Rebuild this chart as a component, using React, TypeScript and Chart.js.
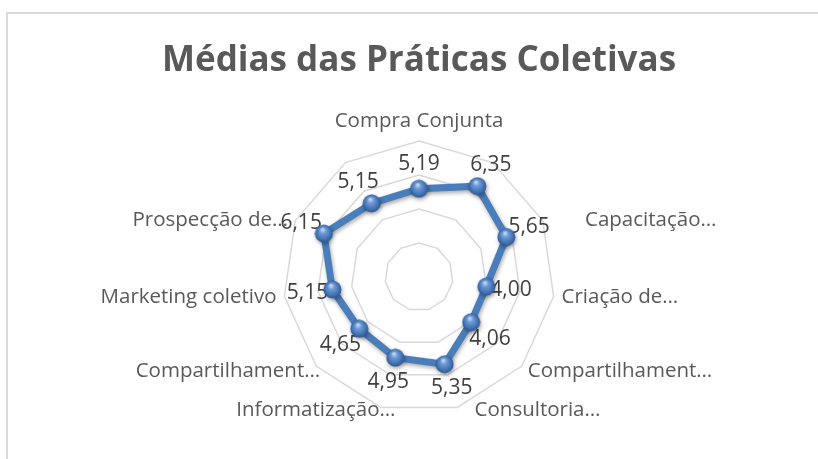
import React, { useEffect, useRef } from 'react';
import { Chart, registerables } from 'chart.js';

Chart.register(...registerables);

// ---- data ----
const categories = [
  'Compra Conjunta',
  '',
  'Capacitação…',
  'Criação de…',
  'Compartilhament…',
  'Consultoria…',
  'Informatização…',
  'Compartilhament…',
  'Marketing coletivo',
  'Prospecção de…',
  '',
];
const values = [5.19, 6.35, 5.65, 4.0, 4.06, 5.35, 4.95, 4.65, 5.15, 6.15, 5.15];
const scaleMin = 0;
const scaleMax = 8;
const scaleStep = 2;
const titleText = 'Médias das Práticas Coletivas';

// ---- label styling (pixel nudges for category labels) ----
const labelNudgeX = [0, 0, 35, 0, 0, 15, 17, 10, 0, 0, 0];
const labelNudgeY = [-2, 0, 3, 0, 0, -5, -5, 0, 0, 3, 0];

const FONT = '"Open Sans", "Noto Sans", sans-serif';

function makeSphere(d: number): HTMLCanvasElement {
  const c = document.createElement('canvas');
  c.width = d;
  c.height = d;
  const g = c.getContext('2d')!;
  const r = d / 2;
  const grad = g.createRadialGradient(r * 0.85, r * 0.55, r * 0.05, r, r, r);
  grad.addColorStop(0, '#c6dcf6');
  grad.addColorStop(0.3, '#6d9ad6');
  grad.addColorStop(0.75, '#3f70b0');
  grad.addColorStop(1, '#2a5186');
  g.fillStyle = grad;
  g.beginPath();
  g.arc(r, r, r - 0.5, 0, Math.PI * 2);
  g.fill();
  return c;
}

const fmt = (v: number) => v.toFixed(2).replace('.', ',');

const labelsPlugin = {
  id: 'radarLabels',
  beforeDatasetsDraw(chart: any) {
    const scale = chart.scales.r;
    const ctx = chart.ctx as CanvasRenderingContext2D;
    const R = scale.drawingArea;
    ctx.save();
    ctx.font = `20.5px ${FONT}`;
    ctx.fillStyle = '#595959';
    categories.forEach((t, i) => {
      if (!t) return;
      const a = scale.getIndexAngle(i) - Math.PI / 2;
      const cos = Math.cos(a);
      const sin = Math.sin(a);
      const p = scale.getPointPosition(i, R + 8);
      const x = p.x + labelNudgeX[i];
      const y = p.y + labelNudgeY[i];
      if (Math.abs(cos) < 0.05) {
        ctx.textAlign = 'center';
        ctx.textBaseline = sin < 0 ? 'bottom' : 'top';
      } else {
        ctx.textAlign = cos > 0 ? 'left' : 'right';
        ctx.textBaseline = 'middle';
      }
      ctx.fillText(t, x, y);
    });
    ctx.font = `21px ${FONT}`;
    ctx.fillStyle = '#404040';
    ctx.textAlign = 'center';
    ctx.textBaseline = 'middle';
    values.forEach((v, i) => {
      const p = scale.getPointPosition(i, scale.getDistanceFromCenterForValue(v) + 25);
      ctx.fillText(fmt(v), p.x, p.y);
    });
    ctx.restore();
    ctx.save();
    ctx.shadowColor = 'rgba(0,0,0,0.35)';
    ctx.shadowBlur = 4;
    ctx.shadowOffsetX = 1;
    ctx.shadowOffsetY = 2;
  },
  afterDatasetsDraw(chart: any) {
    chart.ctx.restore();
  },
};

export default function App() {
  const ref = useRef<HTMLCanvasElement>(null);
  useEffect(() => {
    document.body.style.margin = '0';
    const sphere = makeSphere(19);
    const chart = new Chart(ref.current!, {
      type: 'radar',
      data: {
        labels: categories,
        datasets: [
          {
            data: values,
            borderColor: '#4a7ebb',
            borderWidth: 7,
            fill: false,
            pointStyle: sphere as any,
            pointRadius: 9.5,
            pointHoverRadius: 9.5,
            tension: 0,
          },
        ],
      },
      options: {
        responsive: false,
        devicePixelRatio: 1,
        animation: false,
        layout: { padding: { left: 20, right: 0, top: 0, bottom: 46 } },
        plugins: {
          legend: { display: false },
          tooltip: { enabled: false },
          title: {
            display: true,
            text: titleText,
            color: '#595959',
            font: { family: FONT, size: 35, weight: 'bold', lineHeight: 1.2 },
            padding: { top: 40, bottom: 59 },
          },
        },
        scales: {
          r: {
            min: scaleMin,
            max: scaleMax,
            ticks: { stepSize: scaleStep, display: false },
            grid: { color: '#d9d9d9', lineWidth: 1.5 },
            angleLines: { display: false },
            pointLabels: { display: false },
          },
        },
      },
      plugins: [labelsPlugin],
    });
    return () => chart.destroy();
  }, []);
  return (
    <div
      style={{
        position: 'fixed',
        left: 0,
        top: 0,
        width: 818,
        height: 459,
        overflow: 'hidden',
        background: '#fff',
      }}
    >
      <div
        style={{
          position: 'absolute',
          left: 6,
          top: 12,
          width: 900,
          height: 600,
          borderTop: '2px solid #d9d9d9',
          borderLeft: '2px solid #d9d9d9',
        }}
      />
      <canvas
        ref={ref}
        width={818}
        height={459}
        style={{ position: 'absolute', left: 0, top: 0, width: 818, height: 459 }}
      />
    </div>
  );
}
